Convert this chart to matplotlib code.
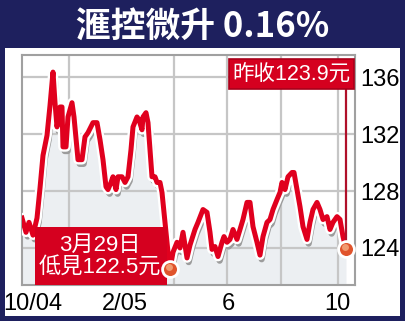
import numpy as np
import matplotlib
matplotlib.use("Agg")
import matplotlib.pyplot as plt
import matplotlib.patheffects as pe
from matplotlib import font_manager
from matplotlib.patches import Rectangle

# HSBC daily close, Oct 2004 - Oct 2005
days = [0, 4, 7, 11, 15, 18, 21, 25, 28, 31, 33, 35, 38, 40, 41, 44, 46, 50, 52, 56,
        60, 63, 66, 71, 75, 78, 81, 84, 86, 89, 91, 94, 96, 100, 103, 106, 109, 111, 115, 117,
        120, 121, 124, 126, 128, 130, 133, 135, 138, 140, 142, 143, 145, 146, 148, 151, 155, 158, 161, 165,
        168, 173, 176, 181, 185, 188, 190, 193, 196, 200, 202, 205, 208, 211, 215, 218, 221, 225, 228, 231,
        235, 238, 241, 245, 248, 251, 255, 258, 260, 263, 266, 270, 272, 275, 278, 281, 285, 288, 291, 295,
        298, 301, 305, 308, 311, 315, 318, 321, 324]
price = [126.1, 125.1, 125.8, 124.9, 126.1, 128.2, 130.5, 131.9, 134.0, 136.35,
         134.2, 132.5, 133.9, 133.9, 131.1, 131.1, 133.2, 134.2, 133.2, 130.2,
         130.2, 131.8, 132.1, 132.8, 132.8, 131.6, 130.2, 128.3, 128.1, 128.6,
         129.0, 128.1, 129.0, 129.0, 128.6, 129.0, 130.9, 132.5, 133.2, 133.0,
         132.3, 133.2, 133.5, 132.8, 130.9, 129.0, 129.0, 128.6, 128.6, 127.9,
         126.5, 125.8, 124.4, 123.7, 122.5, 123.7, 124.4, 124.0, 125.1, 123.3,
         124.2, 125.3, 125.8, 126.7, 126.5, 125.1, 123.9, 124.1, 123.4, 124.4,
         124.8, 124.4, 124.6, 125.3, 124.6, 125.3, 126.0, 127.2, 127.2, 125.5,
         124.4, 123.5, 124.8, 125.8, 126.0, 126.7, 127.4, 127.9, 128.6, 128.1,
         129.0, 129.3, 129.3, 128.1, 126.9, 125.5, 124.6, 125.8, 126.7, 127.2,
         126.7, 126.0, 126.2, 125.3, 125.8, 126.2, 126.0, 124.8, 123.9]

yticks = [124, 128, 132, 136]
label_days = [11, 103, 206, 315]
label_text = ["10/04", "2/05", "6", "10"]
grid_days = [47, 103, 152, 205, 259, 316]

title = "滙控微升 0.16%"
close_text = "昨收123.9元"
low_text = "3月29日\n低見122.5元"

names = {f.name for f in font_manager.fontManager.ttflist}
narrow = "Liberation Sans Narrow" if "Liberation Sans Narrow" in names else "Liberation Sans"
cjk = "Noto Sans CJK TC"

W, H = 406, 321
def fx(x):
    return x / W
def fy(y):
    return 1 - y / H

navy = "#1e205e"
red = "#e0001e"
boxred = "#d5001f"

fig = plt.figure(figsize=(4.06, 3.21), dpi=100, facecolor=navy)
fig.patches.append(Rectangle((fx(5), fy(316)), 395 / W, 268 / H, facecolor="white",
                             edgecolor="none", transform=fig.transFigure, zorder=-1))
fig.text(0.5, fy(26), title, color="white", fontsize=25, fontweight="bold",
         family=[cjk, "DejaVu Sans"], ha="center", va="center")

ax = fig.add_axes([fx(22), fy(285), (355 - 22) / W, (285 - 55) / H])
ax.set_xlim(0, 333)
ax.set_ylim(121.4, 137.55)

ax.fill_between(days, price, 121.4, color="#eceff2", zorder=0.2, lw=0)
ax.set_axisbelow(True)
ax.set_yticks(yticks)
ax.set_xticks(grid_days, minor=True)
ax.set_xticks(label_days)
ax.set_xticklabels(label_text)
ax.grid(axis="y", which="major", color="#c6c6c6", lw=1.6)
ax.grid(axis="x", which="minor", color="#c6c6c6", lw=1.6)
ax.grid(axis="x", which="major", visible=False)
ax.tick_params(which="both", length=0)
ax.tick_params(axis="y", labelleft=False, labelright=True, pad=4)
ax.tick_params(axis="x", pad=6)
for lab in ax.get_xticklabels() + ax.get_yticklabels():
    lab.set_family([narrow, "DejaVu Sans"])
    lab.set_fontsize(17)
for s in ax.spines.values():
    s.set_color("#a0a0a0")
    s.set_linewidth(1.5)

ax.plot(days, price, color=red, lw=3.6, zorder=3, solid_joinstyle="round",
        path_effects=[pe.SimpleLineShadow(offset=(1.2, -3.0), shadow_color="#9c9c9c", alpha=1, linewidth=4.5),
                      pe.Stroke(linewidth=7, foreground="white"), pe.Normal()])

# previous close marker line up to the label
ax.plot([days[-1], days[-1]], [price[-1], 135.15], color="#b0102a", lw=1.6, zorder=3.5)

# label boxes
ax.add_patch(Rectangle((fx(229), fy(89)), (354 - 229) / W, 30 / H, facecolor=boxred,
                       edgecolor="#a8001a", lw=1.2, transform=fig.transFigure, clip_on=False, zorder=4))
ax.text(fx(291), fy(74), close_text, transform=fig.transFigure, color="white", fontsize=15.5,
        family=[narrow, cjk], ha="center", va="center", zorder=5)
ax.add_patch(Rectangle((fx(35), fy(285)), (167 - 35) / W, 58 / H, facecolor=boxred,
                       edgecolor="none", transform=fig.transFigure, clip_on=False, zorder=4))
ax.text(fx(100), fy(256), low_text, transform=fig.transFigure, color="white", fontsize=16,
        family=[narrow, cjk], ha="center", va="center", linespacing=1.05, zorder=5)

imin = int(np.argmin(price))
for i in (imin, len(price) - 1):
    ax.scatter(days[i], price[i], s=130, color="#e0542c", edgecolor="white", lw=2,
               zorder=6, clip_on=False)
    ax.scatter(days[i] - 1, price[i] + 0.15, s=25, color="#f19a70", lw=0, zorder=7, clip_on=False)

fig.savefig("out.png", dpi=100, facecolor=navy)
